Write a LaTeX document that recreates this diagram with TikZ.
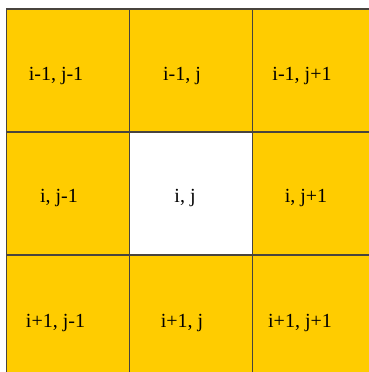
\documentclass[tikz,border=0pt]{standalone}
\usepackage{fontspec}
\setmainfont{Liberation Serif}
\definecolor{cellyellow}{RGB}{255,204,0}
\definecolor{gridline}{RGB}{72,68,62}
\begin{document}
\begin{tikzpicture}[x=1pt,y=-1pt,
  cellbox/.style={draw=gridline,line width=1.6pt,fill=cellyellow,minimum size=123pt,inner sep=0pt,outer sep=0pt},
  whitebox/.style={cellbox,fill=white},
  lbl/.style={anchor=base,inner sep=0pt,font=\fontsize{20}{22}\selectfont}]
\useasboundingbox (0,0) rectangle (369,372);
\fill[white] (0,0) rectangle (369,372);
% cells
\node[cellbox] (c11) at (68,70.5) {};
\node[cellbox] (c12) at (191,70.5) {};
\node[cellbox] (c13) at (314,70.5) {};
\node[cellbox] (c21) at (68,193.5) {};
\node[whitebox] (c22) at (191,193.5) {};
\node[cellbox] (c23) at (314,193.5) {};
\node[cellbox] (c31) at (68,316.5) {};
\node[cellbox] (c32) at (191,316.5) {};
\node[cellbox] (c33) at (314,316.5) {};
% labels
\node[lbl] (t11) at (56,80.5) {i-1, j-1};
\node[lbl] (t12) at (182,80.5) {i-1, j};
\node[lbl] (t13) at (302,80.5) {i-1, j+1};
\node[lbl] (t21) at (59,202) {i, j-1};
\node[lbl] (t22) at (185,202) {i, j};
\node[lbl] (t23) at (306,202) {i, j+1};
\node[lbl] (t31) at (55.5,327) {i+1, j-1};
\node[lbl] (t32) at (182,327) {i+1, j};
\node[lbl] (t33) at (300,327) {i+1, j+1};
\end{tikzpicture}
\end{document}
